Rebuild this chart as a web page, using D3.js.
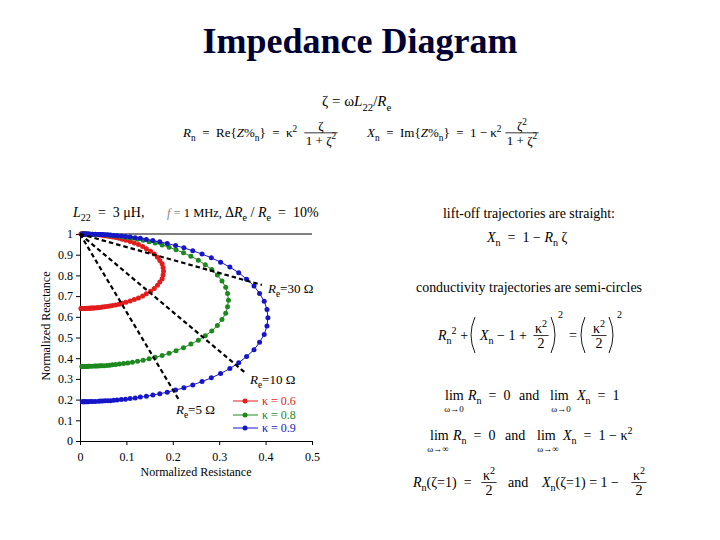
<!DOCTYPE html>
<html>
<head>
<meta charset="utf-8">
<script src="https://cdn.jsdelivr.net/npm/d3@7"></script>
<style>
  body { margin: 0; background: #fff; }
  text { font-family: 'Liberation Serif', 'Times New Roman', serif; }
</style>
</head>
<body>
<svg width="720" height="540"></svg>
<script>
const kappa06 = [
  [0.002,1.000],[0.003,1.000],[0.004,1.000],[0.004,1.000],[0.005,1.000],[0.007,1.000],[0.008,1.000],[0.010,1.000],[0.012,1.000],[0.015,0.999],
  [0.018,0.999],[0.020,0.999],[0.022,0.999],[0.024,0.998],[0.027,0.998],[0.029,0.998],[0.032,0.997],[0.036,0.996],[0.039,0.996],[0.043,0.995],
  [0.048,0.994],[0.053,0.992],[0.058,0.990],[0.064,0.988],[0.070,0.986],[0.077,0.983],[0.084,0.979],[0.091,0.975],[0.099,0.970],[0.108,0.964],
  [0.117,0.957],[0.126,0.949],[0.135,0.940],[0.143,0.929],[0.152,0.917],[0.160,0.903],[0.167,0.888],[0.172,0.872],[0.177,0.856],[0.179,0.838],
  [0.180,0.820],
  [0.179,0.802],[0.177,0.784],[0.172,0.768],[0.167,0.752],[0.160,0.737],[0.152,0.723],[0.143,0.711],[0.135,0.700],[0.126,0.691],[0.117,0.683],
  [0.108,0.676],[0.099,0.670],[0.091,0.665],[0.084,0.661],[0.077,0.657],[0.070,0.654],[0.064,0.652],[0.058,0.650],[0.053,0.648],[0.048,0.647],
  [0.043,0.645],[0.039,0.644],[0.036,0.644],[0.032,0.643],[0.029,0.642],[0.027,0.642],[0.024,0.642],[0.022,0.641],[0.020,0.641],[0.018,0.641],
  [0.015,0.641],[0.012,0.640],[0.010,0.640],[0.008,0.640],[0.007,0.640],[0.005,0.640],[0.004,0.640],[0.004,0.640],[0.003,0.640],[0.002,0.640]
];
const kappa08 = [
  [0.004,1.000],[0.005,1.000],[0.006,1.000],[0.008,1.000],[0.010,1.000],[0.012,1.000],[0.014,1.000],[0.018,1.000],[0.021,0.999],[0.026,0.999],
  [0.032,0.998],[0.035,0.998],[0.039,0.998],[0.043,0.997],[0.047,0.997],[0.052,0.996],[0.058,0.995],[0.064,0.994],[0.070,0.992],[0.077,0.991],
  [0.085,0.989],[0.094,0.986],[0.103,0.983],[0.113,0.979],[0.124,0.975],[0.136,0.970],[0.149,0.963],[0.162,0.956],[0.177,0.947],[0.192,0.936],
  [0.207,0.924],[0.223,0.909],[0.239,0.893],[0.255,0.873],[0.270,0.852],[0.284,0.828],[0.296,0.802],[0.306,0.773],[0.314,0.743],[0.318,0.712],
  [0.320,0.680],
  [0.318,0.648],[0.314,0.617],[0.306,0.587],[0.296,0.558],[0.284,0.532],[0.270,0.508],[0.255,0.487],[0.239,0.468],[0.223,0.451],[0.207,0.436],
  [0.192,0.424],[0.177,0.413],[0.162,0.404],[0.149,0.397],[0.136,0.390],[0.124,0.385],[0.113,0.381],[0.103,0.377],[0.094,0.374],[0.085,0.372],
  [0.077,0.370],[0.070,0.368],[0.064,0.366],[0.058,0.365],[0.052,0.364],[0.047,0.364],[0.043,0.363],[0.039,0.362],[0.035,0.362],[0.032,0.362],
  [0.026,0.361],[0.021,0.361],[0.018,0.361],[0.014,0.360],[0.012,0.360],[0.010,0.360],[0.008,0.360],[0.006,0.360],[0.005,0.360],[0.004,0.360]
];
const kappa09 = [
  [0.005,1.000],[0.007,1.000],[0.008,1.000],[0.010,1.000],[0.012,1.000],[0.015,1.000],[0.018,1.000],[0.022,0.999],[0.027,0.999],[0.033,0.999],
  [0.040,0.998],[0.044,0.998],[0.049,0.997],[0.054,0.996],[0.060,0.996],[0.066,0.995],[0.073,0.993],[0.080,0.992],[0.089,0.990],[0.098,0.988],
  [0.108,0.985],[0.119,0.982],[0.130,0.979],[0.143,0.974],[0.157,0.968],[0.172,0.962],[0.188,0.954],[0.206,0.944],[0.224,0.933],[0.243,0.919],
  [0.263,0.903],[0.283,0.885],[0.303,0.864],[0.323,0.840],[0.342,0.813],[0.359,0.782],[0.375,0.749],[0.387,0.713],[0.397,0.675],[0.403,0.635],
  [0.405,0.595],
  [0.403,0.555],[0.397,0.515],[0.387,0.477],[0.375,0.441],[0.359,0.408],[0.342,0.378],[0.323,0.350],[0.303,0.326],[0.283,0.305],[0.263,0.287],
  [0.243,0.271],[0.224,0.257],[0.206,0.246],[0.188,0.236],[0.172,0.228],[0.157,0.222],[0.143,0.216],[0.130,0.212],[0.119,0.208],[0.108,0.205],
  [0.098,0.202],[0.089,0.200],[0.080,0.198],[0.073,0.197],[0.066,0.195],[0.060,0.194],[0.054,0.194],[0.049,0.193],[0.044,0.193],[0.040,0.192],
  [0.033,0.191],[0.027,0.191],[0.022,0.191],[0.018,0.190],[0.015,0.190],[0.012,0.190],[0.010,0.190],[0.008,0.190],[0.007,0.190],[0.005,0.190]
];
const seriesNames = ["κ = 0.6", "κ = 0.8", "κ = 0.9"];
const seriesColors = ["#e51c1c", "#1e8a1e", "#1616c8"];

// lift-off lines: all start at (0, 1)
const liftoffRe = ["30", "10", "5"];
const liftoffEnd = [[0.392, 0.754], [0.356, 0.330], [0.212, 0.203]];

const xTicks = [0, 0.1, 0.2, 0.3, 0.4, 0.5];
const yTicks = [0, 0.1, 0.2, 0.3, 0.4, 0.5, 0.6, 0.7, 0.8, 0.9, 1];

const svg = d3.select("svg");

const x = d3.scaleLinear().domain([0, 0.5]).range([80, 312]);
const y = d3.scaleLinear().domain([0, 1]).range([441, 234]);

const EQ = "\u2002=\u2002"; // wide equals like the equation editor

// small helper for text with italics / sub / superscripts
function rich(g, px, py, parts, size, anchor) {
  const t = g.append("text").attr("x", px).attr("y", py)
    .attr("font-size", size).attr("text-anchor", anchor || "start");
  let cur = 0;
  parts.forEach(p => {
    const s = typeof p === "string" ? p : p[0];
    const o = typeof p === "string" ? {} : p[1];
    const off = o.sub ? size * 0.3 : o.sup ? -size * 0.4 : 0;
    const ts = t.append("tspan").text(s).attr("dy", off - cur);
    if (o.sub || o.sup) ts.attr("font-size", size * 0.72);
    if (o.i) ts.attr("font-style", "italic");
    if (o.fill) ts.attr("fill", o.fill);
    cur = off;
  });
  return t;
}

function frac(g, cx, base, num, den, size) {
  const axis = base - size * 0.32;
  const n = rich(g, cx, axis - 3, num, size, "middle");
  const d = rich(g, cx, axis + size * 0.9, den, size, "middle");
  const w = Math.max(n.node().getComputedTextLength(), d.node().getComputedTextLength()) + 3;
  g.append("line").attr("x1", cx - w / 2).attr("x2", cx + w / 2)
    .attr("y1", axis).attr("y2", axis).attr("stroke", "#000").attr("stroke-width", 0.8);
}

function paren(g, px, top, bot, left) {
  const w = 4, mid = (top + bot) / 2;
  const path = left
    ? `M${px + w},${top} Q${px - w},${mid} ${px + w},${bot}`
    : `M${px},${top} Q${px + 2 * w},${mid} ${px},${bot}`;
  g.append("path").attr("d", path).attr("fill", "none").attr("stroke", "#000").attr("stroke-width", 0.9);
}

// title
svg.append("text").attr("x", 360).attr("y", 53).attr("text-anchor", "middle")
  .attr("font-size", 36).attr("font-weight", "bold").attr("fill", "#000033")
  .text("Impedance Diagram");

// equations at the top
const eq = svg.append("g");
const es = 14;
rich(eq, 322, 106, ["ζ = ω", ["L", {i: 1}], ["22", {sub: 1}], "/", ["R", {i: 1}], ["e", {sub: 1}]], 15);
rich(eq, 183, 137, [["R", {i: 1}], ["n", {sub: 1}], EQ + "Re{", ["Z", {i: 1}], "%", ["n", {sub: 1}], "}" + EQ + "κ", ["2", {sup: 1}]], 13);
frac(eq, 321, 137, ["ζ"], ["1 + ζ", ["2", {sup: 1}]], 13);
rich(eq, 367, 137, [["X", {i: 1}], ["n", {sub: 1}], EQ + "Im{", ["Z", {i: 1}], "%", ["n", {sub: 1}], "}" + EQ + "1 − κ", ["2", {sup: 1}]], 13);
frac(eq, 522, 137, ["ζ", ["2", {sup: 1}]], ["1 + ζ", ["2", {sup: 1}]], 13);

// right side notes
const rs = svg.append("g");
rs.append("text").attr("x", 443).attr("y", 218).attr("font-size", 14)
  .attr("textLength", 172).attr("lengthAdjust", "spacingAndGlyphs")
  .text("lift-off trajectories are straight:");
rich(rs, 487, 242, [["X", {i: 1}], ["n", {sub: 1}], EQ + "1 − ", ["R", {i: 1}], ["n", {sub: 1}], " ζ"], es);
rs.append("text").attr("x", 416).attr("y", 292).attr("font-size", 14)
  .attr("textLength", 226).attr("lengthAdjust", "spacingAndGlyphs")
  .text("conductivity trajectories are semi-circles");

rich(rs, 438, 340, [["R", {i: 1}], ["n", {sub: 1}], ["2", {sup: 1}], " +"], es);
paren(rs, 471, 317, 353, true);
rich(rs, 480, 340, [["X", {i: 1}], ["n", {sub: 1}], " − 1 +"], es);
frac(rs, 541, 340, ["κ", ["2", {sup: 1}]], ["2"], es);
paren(rs, 551, 317, 353, false);
rich(rs, 558, 318, ["2"], 10);
rich(rs, 569, 340, ["="], es);
paren(rs, 581, 317, 353, true);
frac(rs, 599, 340, ["κ", ["2", {sup: 1}]], ["2"], es);
paren(rs, 609, 317, 353, false);
rich(rs, 617, 318, ["2"], 10);

rich(rs, 445, 400, ["lim"], es);
rich(rs, 454, 412, ["ω→0"], 9, "middle");
rich(rs, 468, 400, [["R", {i: 1}], ["n", {sub: 1}], EQ + "0"], es);
rich(rs, 519, 400, ["and"], es);
rich(rs, 550, 400, ["lim"], es);
rich(rs, 561, 412, ["ω→0"], 9, "middle");
rich(rs, 577, 400, [["X", {i: 1}], ["n", {sub: 1}], EQ + "1"], es);

rich(rs, 430, 440, ["lim"], es);
rich(rs, 438, 452, ["ω→∞"], 9, "middle");
rich(rs, 453, 440, [["R", {i: 1}], ["n", {sub: 1}], EQ + "0"], es);
rich(rs, 505, 440, ["and"], es);
rich(rs, 537, 440, ["lim"], es);
rich(rs, 548, 452, ["ω→∞"], 9, "middle");
rich(rs, 563, 440, [["X", {i: 1}], ["n", {sub: 1}], EQ + "1 − κ", ["2", {sup: 1}]], es);

rich(rs, 413, 487, [["R", {i: 1}], ["n", {sub: 1}], "(ζ=1)" + EQ], es);
frac(rs, 489, 487, ["κ", ["2", {sup: 1}]], ["2"], es);
rich(rs, 508, 487, ["and"], es);
rich(rs, 542, 487, [["X", {i: 1}], ["n", {sub: 1}], "(ζ=1) = 1 −"], es);
frac(rs, 639, 487, ["κ", ["2", {sup: 1}]], ["2"], es);

// note above the plot
rich(svg, 73, 217, [["L", {i: 1}], ["22", {sub: 1}], EQ + "3 μH,"], 14);
rich(svg, 167, 217, [["f", {i: 1, fill: "#888"}], [" = ", {fill: "#888"}], "1 MHz,"], 12.5);
rich(svg, 225, 217, ["Δ", ["R", {i: 1}], ["e", {sub: 1}], " / ", ["R", {i: 1}], ["e", {sub: 1}], EQ + "10%"], 14);

// axes
const xAxis = svg.append("g").attr("transform", "translate(0,441)")
  .call(d3.axisBottom(x).tickValues(xTicks).tickSize(4).tickSizeOuter(0).tickFormat(d3.format("~g")));
const yAxis = svg.append("g").attr("transform", "translate(80,0)")
  .call(d3.axisLeft(y).tickValues(yTicks).tickSize(4).tickSizeOuter(0).tickFormat(d3.format("~g")));
[xAxis, yAxis].forEach(a => {
  a.selectAll("text").attr("font-size", 12).attr("font-family", "'Liberation Serif', serif").attr("fill", "#000");
  a.selectAll("line, path").attr("stroke", "#000");
});
xAxis.selectAll("text").attr("dy", "1.05em");
svg.append("line").attr("x1", x(0)).attr("x2", x(0.5)).attr("y1", y(1)).attr("y2", y(1)).attr("stroke", "#000");

svg.append("text").attr("x", 196).attr("y", 476).attr("text-anchor", "middle").attr("font-size", 12)
  .text("Normalized Resistance");
svg.append("text").attr("transform", "translate(50,326) rotate(-90)").attr("text-anchor", "middle")
  .attr("font-size", 12).text("Normalized Reactance");

// curves
const line = d3.line().x(d => x(d[0])).y(d => y(d[1]));
[kappa06, kappa08, kappa09].forEach((data, i) => {
  const g = svg.append("g");
  g.append("path").datum(data).attr("d", line).attr("fill", "none")
    .attr("stroke", seriesColors[i]).attr("stroke-width", 1);
  g.selectAll("circle").data(data).enter().append("circle")
    .attr("cx", d => x(d[0])).attr("cy", d => y(d[1])).attr("r", 2.5)
    .attr("fill", seriesColors[i]);
});

// lift-off dashed lines
svg.selectAll(".liftoff").data(liftoffEnd).enter().append("line")
  .attr("class", "liftoff")
  .attr("x1", x(0)).attr("y1", y(1))
  .attr("x2", d => x(d[0])).attr("y2", d => y(d[1]))
  .attr("stroke", "#000").attr("stroke-width", 2.2).attr("stroke-dasharray", "4.5,3");

const labelPos = [[268, 293], [250, 384], [176, 414]];
liftoffRe.forEach((r, i) => {
  rich(svg, labelPos[i][0], labelPos[i][1], [["R", {i: 1}], ["e", {sub: 1}], "=" + r + " Ω"], 13);
});

// legend
const legY = [401, 415, 428];
seriesNames.forEach((n, i) => {
  const g = svg.append("g");
  g.append("line").attr("x1", 233).attr("x2", 258).attr("y1", legY[i]).attr("y2", legY[i])
    .attr("stroke", seriesColors[i]).attr("stroke-width", 1);
  g.append("circle").attr("cx", 245).attr("cy", legY[i]).attr("r", 2.5).attr("fill", seriesColors[i]);
  g.append("text").attr("x", 262).attr("y", legY[i] + 4).attr("font-size", 12)
    .attr("fill", seriesColors[i]).text(n);
});
</script>
</body>
</html>
